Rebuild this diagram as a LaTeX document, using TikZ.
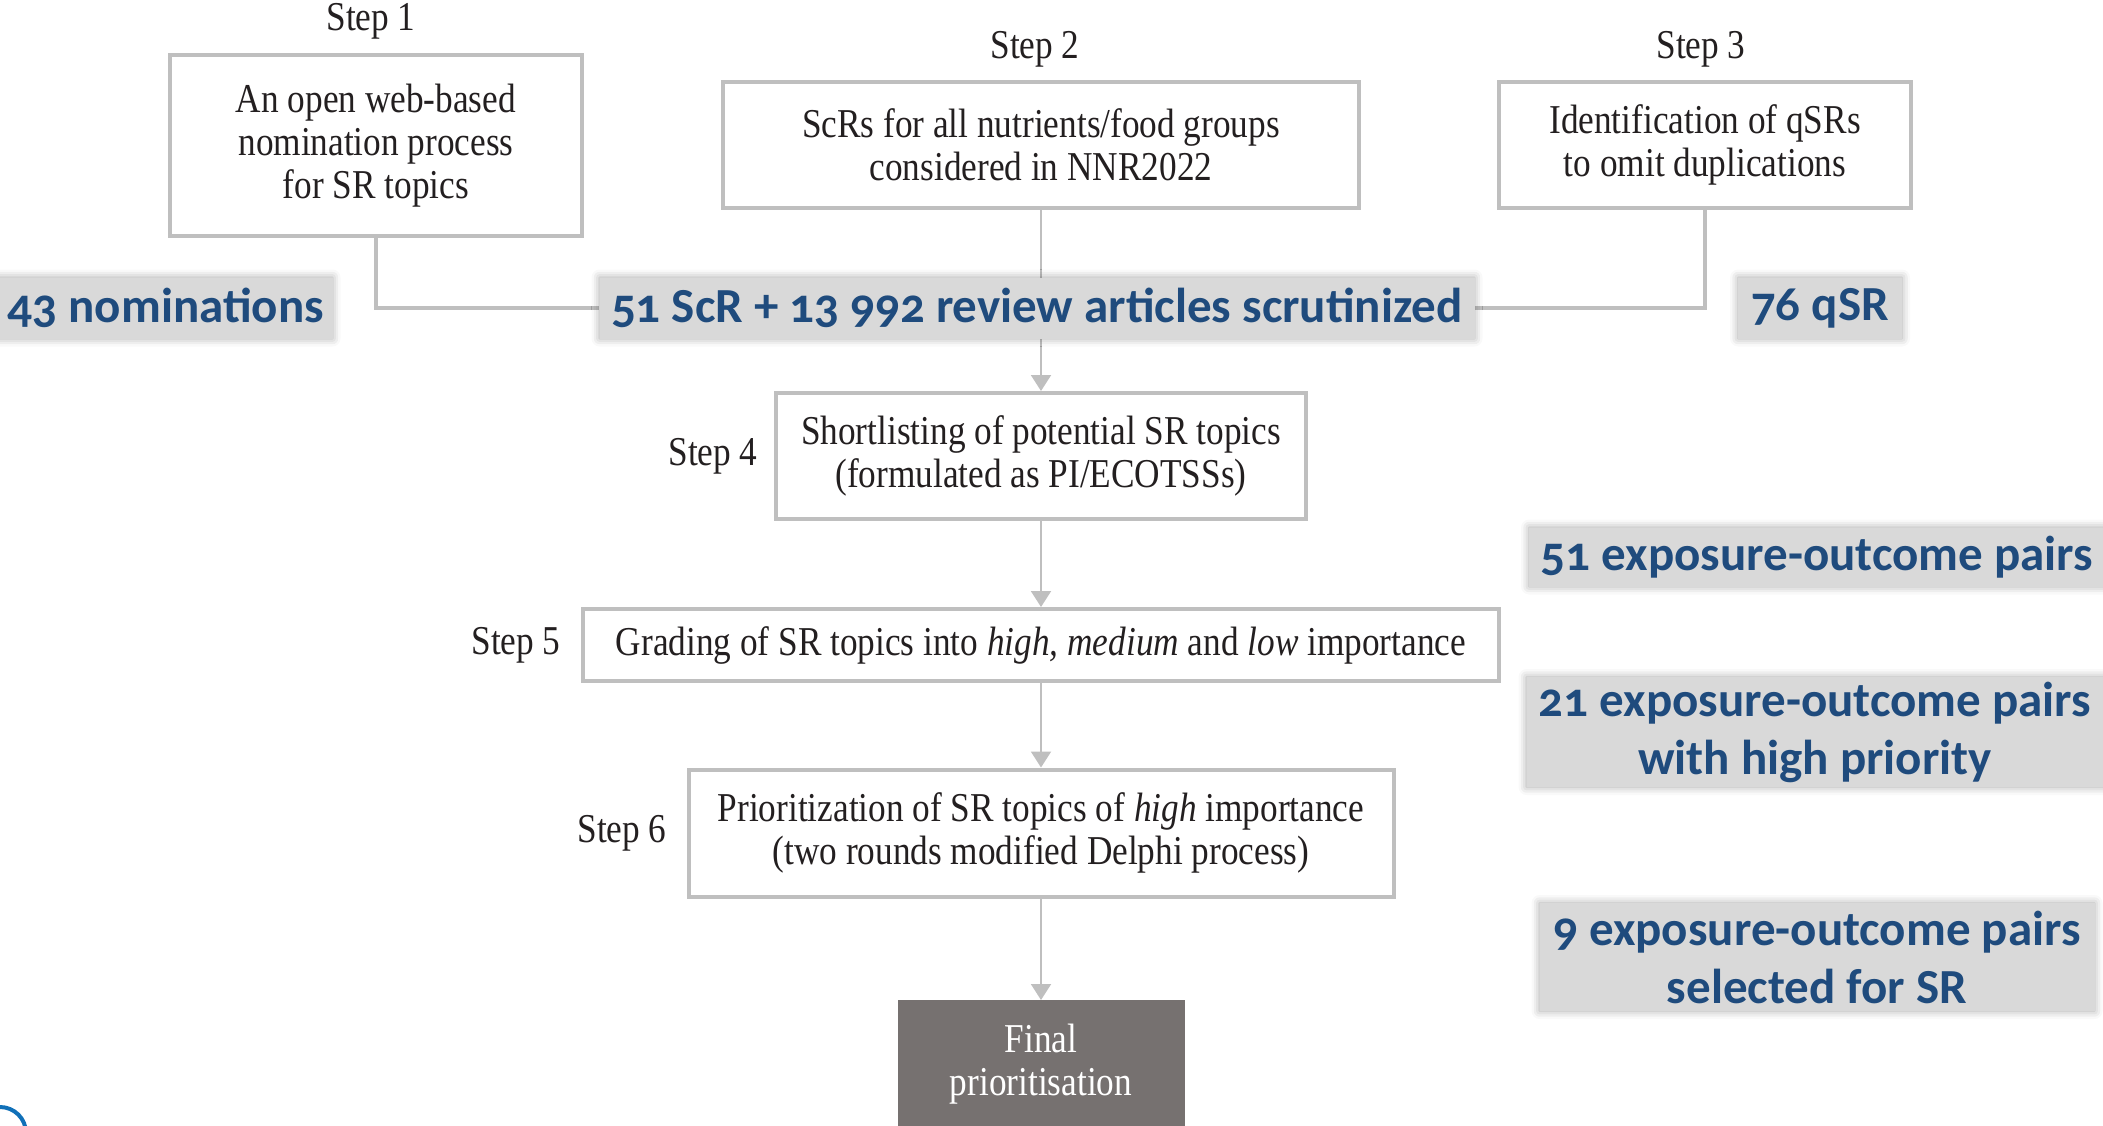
\documentclass[tikz,border=0pt]{standalone}
\usepackage{fontspec}
\setmainfont{Liberation Serif}[FakeStretch=0.86]
\newfontfamily\labfont{Carlito}[Numbers=OldStyle]
\usetikzlibrary{arrows.meta,shadows.blur,backgrounds}
\definecolor{boxgray}{RGB}{191,191,191}
\definecolor{labblue}{RGB}{31,75,125}
\definecolor{labbg}{RGB}{217,217,217}
\definecolor{finalfill}{RGB}{118,113,112}
\definecolor{inkblack}{RGB}{35,31,32}
\definecolor{arcblue}{RGB}{16,112,184}
\begin{document}
\begin{tikzpicture}[x=1pt,y=-1pt,
 stepbox/.style={draw=boxgray, line width=4pt, fill=white, align=center, font=\fontsize{41}{43}\selectfont, text=inkblack, inner sep=0pt},
 steplabel/.style={font=\fontsize{41}{43}\selectfont, text=inkblack, inner sep=0pt},
 countlabel/.style={fill=labbg, text=labblue, font=\labfont\bfseries\fontsize{49}{58}\selectfont, align=center, inner sep=0pt, blur shadow={shadow xshift=0pt, shadow yshift=0pt, shadow blur radius=8pt, shadow opacity=35}},
 link/.style={draw=boxgray, line width=4pt},
 flow/.style={draw=boxgray, line width=2pt, -{Triangle[width=20pt,length=16pt]}},
 finalbox/.style={fill=finalfill, inner sep=0pt},
]
\useasboundingbox (0,0) rectangle (2103,1126);

% step boxes
\node[stepbox, minimum width=412, minimum height=181] (box1) at (376,145.5) {An open web-based\\nomination process\\for SR topics};
\node[stepbox, minimum width=636, minimum height=126] (box2) at (1041,145) {ScRs for all nutrients/food groups\\considered in NNR2022};
\node[stepbox, minimum width=412, minimum height=126] (box3) at (1705,145) {Identification of qSRs\\to omit duplications};
\node[stepbox, minimum width=530, minimum height=126] (box4) at (1041,456) {Shortlisting of potential SR topics\\(formulated as PI/ECOTSSs)};
\node[stepbox, minimum width=916, minimum height=72] (box5) at (1041,645) {Grading of SR topics into \textit{high, medium} and \textit{low} importance};
\node[stepbox, minimum width=705, minimum height=127] (box6) at (1041,833) {Prioritization of SR topics of \textit{high} importance\\(two rounds modified Delphi process)};
\node[finalbox, anchor=north, minimum width=287, minimum height=160] (final) at (1041,1000) {};
\node[steplabel, text=white, align=center] (finaltext) at (1041,1064) {Final\\prioritisation};

% step labels
\node[steplabel] (s1) at (371,21) {Step 1};
\node[steplabel] (s2) at (1035,49) {Step 2};
\node[steplabel] (s3) at (1701,49) {Step 3};
\node[steplabel] (s4) at (713,456) {Step 4};
\node[steplabel] (s5) at (516,645) {Step 5};
\node[steplabel] (s6) at (622,833) {Step 6};

% count labels
\node[countlabel, minimum width=333, minimum height=61] (nom) at (166,308) {43 nominations};
\node[countlabel, minimum width=875, minimum height=61] (scr) at (1037,308) {51 ScR + 13 992 review articles scrutinized};
\node[countlabel, minimum width=164, minimum height=61] (qsr) at (1820,308) {76 qSR};
\node[countlabel, minimum width=576, minimum height=59] (exp51) at (1817,557) {51 exposure-outcome pairs};
\node[countlabel, minimum width=577, minimum height=110] (exp21) at (1815,732) {21 exposure-outcome pairs\\with high priority};
\node[countlabel, minimum width=555, minimum height=108] (exp9) at (1817,957) {9 exposure-outcome pairs\\selected for SR};

% connectors
\begin{scope}[on background layer]
\draw[link] (box1.south) |- (scr.west);
\draw[link] (box3.south) |- (scr.east);
\draw[flow] (box2.south) -- (box4.north);
\draw[flow] (box4.south) -- (box5.north);
\draw[flow] (box5.south) -- (box6.north);
\draw[flow] (box6.south) -- (final.north);
\end{scope}

% partial blue circle at corner
\draw[arcblue, line width=4pt] (0,1133) circle (26);
\end{tikzpicture}
\end{document}
